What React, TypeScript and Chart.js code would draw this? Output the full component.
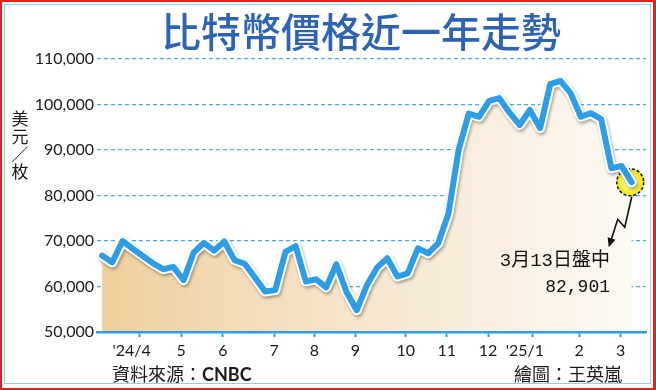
import React, { useEffect, useRef } from "react";
import { Chart, registerables } from "chart.js";

Chart.register(...registerables);

// Weekly closing prices (USD per coin), about one year up to 2025-03-13
const prices = [
  66800, 65300, 70000, 68300, 66700, 65100, 63800, 64300, 61400, 67500,
  69600, 67900, 69900, 65800, 65000, 62000, 58900, 59200, 67600, 68900,
  61100, 61600, 59800, 64900, 58800, 54800, 60300, 64200, 66200, 62200,
  62900, 68400, 67300, 69500, 76000, 90000, 98000, 97300, 100800, 101400,
  98200, 95500, 98800, 94800, 104500, 105200, 102500, 97300, 98100, 96800,
  86000, 86500, 82901,
];

// Month tick positions, in weeks from the first data point
const monthTickWeeks = [3.68, 7.75, 11.86, 16.89, 20.85, 24.86, 29.82, 33.83, 37.9, 42.3, 46.83, 50.9];
const monthLabels = ["'24/4", "5", "6", "7", "8", "9", "10", "11", "12", "'25/1", "2", "3"];
const yTicks = [50000, 60000, 70000, 80000, 90000, 100000, 110000];

const titleText = "比特幣價格近一年走勢";
const unitChars = ["美", "元", "／", "枚"];
const sourceLabel = "資料來源：";
const sourceName = "CNBC";
const creditText = "繪圖：王英嵐";
const noteDate = "3月13日盤中";
const noteValue = 82901;

const BLUE = "#2d9de5";
const GRID = "#4aa8ee";

export default function App() {
  const canvasRef = useRef<HTMLCanvasElement>(null);

  useEffect(() => {
    document.body.style.margin = "0";
    const canvas = canvasRef.current;
    if (!canvas) return;
    const points = prices.map((p, i) => ({ x: i, y: p }));
    const lastIdx = prices.length - 1;

    const decoPlugin = {
      id: "deco",
      beforeDatasetDraw(chart: any, args: any) {
        if (args.index !== 1) return;
        const c = chart.ctx;
        c.save();
        c.shadowColor = "rgba(0,0,0,0.32)";
        c.shadowBlur = 3;
        c.shadowOffsetX = 1.2;
        c.shadowOffsetY = 2;
      },
      afterDatasetDraw(chart: any, args: any) {
        const c = chart.ctx;
        if (args.index === 1) {
          c.restore();
          return;
        }
        if (args.index !== 0) return;
        const px = chart.scales.x.getPixelForValue(lastIdx);
        const py = chart.scales.y.getPixelForValue(prices[lastIdx]);
        const cx = px - 1.5;
        const cy = py;
        const r = 13.5;
        c.save();
        const g = c.createRadialGradient(cx, cy, 1, cx, cy, r);
        g.addColorStop(0, "#fdfbd0");
        g.addColorStop(0.55, "#f8f25a");
        g.addColorStop(1, "#efe400");
        c.fillStyle = g;
        c.beginPath();
        c.arc(cx, cy, r, 0, Math.PI * 2);
        c.fill();
        c.setLineDash([3, 2]);
        c.lineWidth = 1.5;
        c.strokeStyle = "#111";
        c.stroke();
        c.setLineDash([]);
        // zig-zag arrow
        const sx = px;
        const sy = py + r + 1;
        const p1 = { x: px - 7, y: py + 45 };
        const p2 = { x: px - 14, y: py + 37 };
        const tip = { x: px - 23, y: py + 65 };
        c.lineWidth = 1.6;
        c.strokeStyle = "#111";
        c.beginPath();
        c.moveTo(sx, sy);
        c.lineTo(p1.x, p1.y);
        c.lineTo(p2.x, p2.y);
        const ang = Math.atan2(tip.y - p2.y, tip.x - p2.x);
        const hl = 10;
        const bx = tip.x - Math.cos(ang) * hl * 0.8;
        const by = tip.y - Math.sin(ang) * hl * 0.8;
        c.lineTo(bx, by);
        c.stroke();
        c.fillStyle = "#111";
        c.beginPath();
        c.moveTo(tip.x, tip.y);
        c.lineTo(tip.x - Math.cos(ang - 0.42) * hl, tip.y - Math.sin(ang - 0.42) * hl);
        c.lineTo(tip.x - Math.cos(ang + 0.42) * hl, tip.y - Math.sin(ang + 0.42) * hl);
        c.closePath();
        c.fill();
        c.restore();
      },
    };

    const chart = new Chart(canvas, {
      type: "line",
      data: {
        datasets: [
          {
            data: points,
            fill: "start",
            backgroundColor: (ctx: any) => {
              const area = ctx.chart.chartArea;
              if (!area) return "#f3e0c0";
              const g = ctx.chart.ctx.createLinearGradient(area.left, 0, area.right, 0);
              g.addColorStop(0, "#eecf9b");
              g.addColorStop(0.45, "#f5e5cb");
              g.addColorStop(1, "#fdfaf6");
              return g;
            },
            borderWidth: 0,
            pointRadius: 0,
            order: 3,
          },
          {
            data: points,
            fill: false,
            borderColor: "#ffffff",
            borderWidth: 10,
            pointRadius: 0,
            borderJoinStyle: "round",
            borderCapStyle: "round",
            order: 2,
          },
          {
            data: points,
            fill: false,
            borderColor: BLUE,
            borderWidth: 6,
            pointRadius: 0,
            borderJoinStyle: "round",
            borderCapStyle: "round",
            order: 1,
          },
        ] as any,
      },
      options: {
        animation: false,
        responsive: false,
        devicePixelRatio: 1,
        events: [],
        layout: { padding: { left: 0, right: 10, top: 59, bottom: 0 } },
        plugins: {
          legend: { display: false },
          tooltip: { enabled: false },
          title: { display: false },
        },
        scales: {
          x: {
            type: "linear",
            min: -0.5,
            max: 53.4,
            afterFit: (s: any) => {
              s.height = 58;
            },
            afterBuildTicks: (s: any) => {
              s.ticks = monthTickWeeks.map((v) => ({ value: v }));
            },
            ticks: {
              autoSkip: false,
              maxRotation: 0,
              padding: 4,
              color: "#1a1a1a",
              font: { family: "Lato", size: 16 },
              callback: (_v: any, i: number) => {
                const l = monthLabels[i];
                return l.startsWith("'") ? l + "\u2002\u2002" : l;
              },
            },
            grid: {
              drawOnChartArea: false,
              drawTicks: true,
              tickLength: 5,
              tickColor: BLUE,
              tickWidth: 2,
            },
            border: { display: true, color: BLUE, width: 2.5, z: 1 },
          },
          y: {
            min: 50000,
            max: 110000,
            afterFit: (s: any) => {
              s.width = 97;
            },
            afterBuildTicks: (s: any) => {
              s.ticks = yTicks.map((v) => ({ value: v }));
            },
            ticks: {
              padding: 3,
              color: "#1a1a1a",
              font: { family: "Lato", size: 16 },
              callback: (v: any) => Number(v).toLocaleString("en-US"),
            },
            grid: {
              drawTicks: false,
              lineWidth: 1.2,
              color: (ctx: any) =>
                ctx.tick && ctx.tick.value === 50000 ? "rgba(0,0,0,0)" : GRID,
            },
            border: { display: false, dash: [4, 3] },
          },
        },
      } as any,
      plugins: [decoPlugin as any],
    });
    return () => chart.destroy();
  }, []);

  const cjk = '"Noto Sans CJK TC", "Noto Sans CJK SC", sans-serif';

  return (
    <div
      style={{
        position: "fixed",
        left: 0,
        top: 0,
        width: 656,
        height: 390,
        background: "#ffffff",
        overflow: "hidden",
      }}
    >
      <canvas
        ref={canvasRef}
        width={656}
        height={390}
        style={{ position: "absolute", left: 0, top: 0, width: 656, height: 390 }}
      />
      <div
        style={{
          position: "absolute",
          left: 161,
          top: 10,
          width: 400,
          fontFamily: cjk,
          fontSize: 40,
          lineHeight: "40px",
          fontWeight: 500,
          color: "#2c63b4",
          whiteSpace: "nowrap",
          textAlign: "center",
        }}
      >
        {titleText}
      </div>
      <div
        style={{
          position: "absolute",
          left: 11,
          top: 109,
          width: 18,
          fontFamily: cjk,
          fontSize: 17,
          lineHeight: "17.8px",
          color: "#1a1a1a",
          textAlign: "center",
        }}
      >
        {unitChars.map((ch, i) => (
          <div key={i}>{ch}</div>
        ))}
      </div>
      <div
        style={{
          position: "absolute",
          left: 112,
          top: 364,
          fontFamily: cjk,
          fontSize: 18,
          lineHeight: "18px",
          color: "#1a1a1a",
          whiteSpace: "nowrap",
        }}
      >
        {sourceLabel}
        <span style={{ fontFamily: "Lato, sans-serif", fontWeight: 700 }}>{sourceName}</span>
      </div>
      <div
        style={{
          position: "absolute",
          left: 514,
          top: 364,
          fontFamily: cjk,
          fontSize: 18,
          lineHeight: "18px",
          color: "#1a1a1a",
          whiteSpace: "nowrap",
        }}
      >
        {creditText}
      </div>
      <div
        style={{
          position: "absolute",
          left: 460,
          top: 252,
          width: 150,
          textAlign: "right",
          fontFamily: '"Liberation Mono", "Noto Sans CJK TC", monospace',
          fontSize: 19,
          lineHeight: "19px",
          color: "#111",
          whiteSpace: "nowrap",
        }}
      >
        {noteDate}
      </div>
      <div
        style={{
          position: "absolute",
          left: 460,
          top: 278,
          width: 150,
          textAlign: "right",
          fontFamily: '"Liberation Mono", monospace',
          fontSize: 18,
          lineHeight: "18px",
          color: "#111",
          whiteSpace: "nowrap",
        }}
      >
        {noteValue.toLocaleString("en-US")}
      </div>
      <div
        style={{
          position: "absolute",
          left: 0,
          top: 0,
          width: 656,
          height: 390,
          boxSizing: "border-box",
          border: "2px solid #e3211b",
          borderRight: "3px solid #e3211b",
          pointerEvents: "none",
        }}
      />
      <div
        style={{
          position: "absolute",
          left: 4,
          top: 4,
          width: 647,
          height: 380,
          boxSizing: "border-box",
          border: "1px solid #9ccaf0",
          pointerEvents: "none",
        }}
      />
    </div>
  );
}
